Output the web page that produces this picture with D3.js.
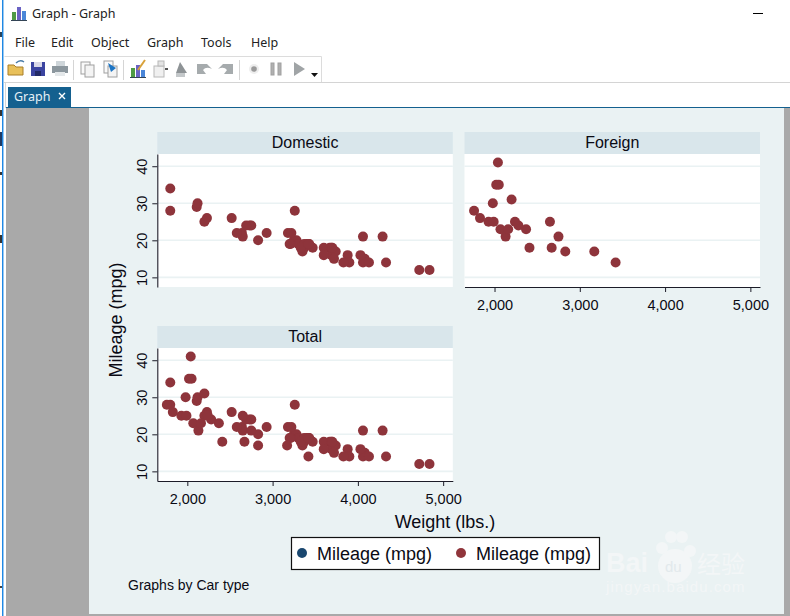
<!DOCTYPE html>
<html><head><meta charset="utf-8">
<script src="https://cdn.jsdelivr.net/npm/d3@7"></script>
<style>
html,body{margin:0;padding:0;background:#fff;overflow:hidden}
svg{display:block}
text{font-family:"Liberation Sans",Arial,sans-serif;fill:#0a0a14}
.ui{font-family:"Noto Sans",sans-serif;font-size:12.5px;fill:#222}
</style></head><body>
<svg id="c" width="790" height="616"></svg>
<script>
// ---- data ----
const domesticWeight=[2930,3350,2640,3250,4080,3670,2230,3280,3880,3400,4330,3900,4290,2110,3690,3180,3220,2750,3430,2120,3600,3600,3740,1800,2650,4840,4720,3830,2580,4060,3720,3370,4130,2830,4060,3310,3300,3690,3370,2730,4030,3260,1800,2200,2520,3330,3700,3470,3210,3200,3420,2690];
const domesticMpg=[22,17,22,20,15,18,26,20,16,19,14,14,21,29,16,22,22,24,19,30,18,16,17,28,21,12,12,14,22,14,15,18,14,20,21,19,19,18,19,24,16,28,34,25,26,18,18,18,19,19,19,24];
const foreignWeight=[2830,2070,2650,2370,2020,2280,2750,2130,2240,1760,1980,3420,1830,2050,2410,2200,2670,2160,2040,1930,1990,3170];
const foreignMpg=[17,23,25,23,35,24,21,21,25,28,30,14,26,35,18,31,18,23,41,25,25,17];
const panelTitles=["Domestic","Foreign","Total"];
const xTicks=[2000,3000,4000,5000];
const yTicks=[10,20,30,40];
const legendLabels=["Mileage (mpg)","Mileage (mpg)"];
const legendColors=["#1a476f","#90353b"];
const menuItems=["File","Edit","Object","Graph","Tools","Help"];

const svg=d3.select("#c");
const BG="#eaf2f3",HEAD="#d9e6eb",MAROON="#8e343b";
const rect=(g,x,y,w,h,f)=>g.append("rect").attr("x",x).attr("y",y).attr("width",w).attr("height",h).attr("fill",f);
const line=(g,x1,y1,x2,y2,s,w)=>g.append("line").attr("x1",x1).attr("y1",y1).attr("x2",x2).attr("y2",y2).attr("stroke",s).attr("stroke-width",w||1);

// ---- application window chrome ----
const ui=svg.append("g");
rect(ui,0,0,790,616,"#fff");
rect(ui,2,0,1,616,"#1e88e5");
rect(ui,3,0,1,616,"#9cc8ee");
rect(ui,0,32,2,5,"#27445c");rect(ui,0,110,2,6,"#333");rect(ui,0,132,2,14,"#1c3a66");rect(ui,0,172,2,3,"#333");rect(ui,0,235,2,8,"#333");rect(ui,0,586,2,2,"#444");
// title bar
[[12,12,"#4f9a45",4,8],[17,7,"#6a62c4",4,13],[22,11,"#4a86d8",4,9]].forEach(d=>rect(ui,d[0],d[1],d[3],d[4],d[2]));
rect(ui,11,20,16,1,"#345");
ui.append("text").attr("class","ui").attr("x",32).attr("y",18).text("Graph - Graph");
rect(ui,753,13,10,1,"#000");
// menu
const menuX=[15,51,91,147,201,251];
ui.selectAll(".m").data(menuItems).join("text").attr("class","ui m")
  .attr("x",(d,i)=>menuX[i]).attr("y",47).text(d=>d);
// toolbar
ui.append("path").attr("d","M4.5 56.5H321.5V82.5").attr("fill","none").attr("stroke","#dcdcdc");
line(ui,4,82.5,790,82.5,"#d4d4d4");
rect(ui,5,83,1,25,"#d8d8d8");
[73.5,123.5,239.5].forEach(x=>line(ui,x,60,x,80,"#d5d5d5"));
// folder
ui.append("path").attr("d","M8 75V65H14L16 67H23V75Z").attr("fill","#e8c05a").attr("stroke","#a97f28");
ui.append("path").attr("d","M16 63Q20 59 24 62").attr("fill","none").attr("stroke","#4a7ca8").attr("stroke-width",1.4);
// save
rect(ui,31,62,14,14,"#3b44a0");rect(ui,34,62,8,5,"#d8d8e8");rect(ui,35,71,6,5,"#222a66");
// print
rect(ui,56,61,9,5,"#cfd6da");rect(ui,52,66,16,7,"#8c979e");rect(ui,55,72,10,4,"#e4e8ea");
// copy docs
rect(ui,81,62,9,12,"#fafafa").attr("stroke","#a0a0a0");rect(ui,85,65,9,12,"#f4f4f4").attr("stroke","#a0a0a0");
rect(ui,104,61,9,12,"#fafafa").attr("stroke","#a0a0a0");rect(ui,108,66,9,11,"#f4f4f4").attr("stroke","#a0a0a0");
ui.append("path").attr("d","M108 63L116 68L111 72Z").attr("fill","#1d75c4");
// chart icon
[[131,68,"#4f9a45",4,9],[136,65,"#6a62c4",4,12],[141,70,"#4a86d8",4,7]].forEach(d=>rect(ui,d[0],d[1],d[3],d[4],d[2]));
ui.append("path").attr("d","M138 70L145 60").attr("stroke","#d9a23b").attr("stroke-width",2);
rect(ui,130,77,16,1,"#345");
// greyed icons
rect(ui,154,66,10,11,"#f0f0f0").attr("stroke","#b8b8b8");rect(ui,158,61,6,5,"#e4e4e4").attr("stroke","#b8b8b8");rect(ui,165,68,3,2,"#555");
ui.append("path").attr("d","M180 62L187 73H176Z").attr("fill","#8e9396");rect(ui,176,73,9,4,"#c4c8ca");
ui.append("path").attr("d","M197 64H207L212 69Q206 66 203 70L206 74H197Z").attr("fill","#a6abad");
ui.append("path").attr("d","M233 64H223L218 69Q224 66 227 70L224 74H233Z").attr("fill","#a6abad");
ui.append("circle").attr("cx",254).attr("cy",69).attr("r",5).attr("fill","#eee");
ui.append("circle").attr("cx",254).attr("cy",69).attr("r",2.8).attr("fill","#9a9a9a");
rect(ui,271,63,3,12,"#b0b0b0").attr("stroke","#a0a0a0");rect(ui,278,63,3,12,"#b0b0b0").attr("stroke","#a0a0a0");
ui.append("path").attr("d","M294 62L305 69L294 76Z").attr("fill","#a0a4a6");
ui.append("path").attr("d","M311 73H318L314.5 77Z").attr("fill","#111");
// tab
rect(ui,8,87,63,20,"#14608f");
rect(ui,6,107,784,1,"#14608f");
ui.append("text").attr("class","ui").attr("x",14).attr("y",101).style("fill","#e6f0f6").text("Graph");
ui.append("path").attr("d","M59 93L65 99M65 93L59 99").attr("stroke","#fff").attr("stroke-width",1.4);

// ---- graph region ----
rect(ui,6,108,784,508,"#a9a9a9");
rect(ui,89,108,695,506,BG);

// ---- panels ----
const panels=[
 {i:0,w:domesticWeight,m:domesticMpg,left:157.3,top:132,xAxis:false,yAxis:true},
 {i:1,w:foreignWeight,m:foreignMpg,left:464.5,top:132,xAxis:true,yAxis:false},
 {i:2,w:domesticWeight.concat(foreignWeight),m:domesticMpg.concat(foreignMpg),left:157.3,top:326,xAxis:true,yAxis:true}
];
const PW=295.5,HH=22,PH=133;
panels.forEach(p=>{
  const g=svg.append("g");
  const t=p.top+HH,b=t+PH;
  rect(g,p.left,p.top,PW,HH,HEAD);
  rect(g,p.left,t,PW,PH,"#fff");
  g.append("text").attr("x",p.left+PW/2).attr("y",p.top+15.5).attr("text-anchor","middle")
    .style("font-size","16px").text(panelTitles[p.i]);
  const x=d3.scaleLinear().domain([1648,5113]).range([p.left,p.left+PW]);
  const y=d3.scaleLinear().domain([7.4,43.3]).range([b,t]);
  g.selectAll(".grid").data(yTicks).join("line")
    .attr("x1",p.left).attr("x2",p.left+PW)
    .attr("y1",d=>y(d)).attr("y2",d=>y(d))
    .attr("stroke",BG).attr("stroke-width",1.6);
  if(p.yAxis){
    const ay=g.append("g").attr("transform",`translate(${p.left},0)`)
      .call(d3.axisLeft(y).tickValues(yTicks).tickSize(5).tickSizeOuter(0).tickFormat(d3.format("d")));
    ay.select(".domain").attr("stroke","#1c1c28").attr("stroke-width",1.1);
    ay.selectAll(".tick line").attr("stroke","#1c1c28");
    ay.selectAll(".tick text").attr("x",0).attr("y",0).attr("dy",0)
      .attr("transform","translate(-10,0) rotate(-90)")
      .attr("text-anchor","middle").style("font-size","14.5px").style("font-family",'"Liberation Sans",Arial,sans-serif').style("fill","#0a0a14");
  }
  if(p.xAxis){
    const ax=g.append("g").attr("transform",`translate(0,${b})`)
      .call(d3.axisBottom(x).tickValues(xTicks).tickSize(5).tickSizeOuter(0).tickFormat(d3.format(",")));
    ax.select(".domain").attr("stroke","#1c1c28").attr("stroke-width",1.1);
    ax.selectAll(".tick line").attr("stroke","#1c1c28");
    ax.selectAll(".tick text").attr("y",13).attr("dy","0.72em")
      .style("font-size","14.5px").style("font-family",'"Liberation Sans",Arial,sans-serif').style("fill","#0a0a14");
  }
  g.selectAll("circle").data(p.w.map((w,i)=>[w,p.m[i]])).join("circle")
    .attr("cx",d=>x(d[0])).attr("cy",d=>y(d[1])).attr("r",5).attr("fill",MAROON);
});

// ---- titles ----
svg.append("text").attr("transform","translate(122,320) rotate(-90)").attr("text-anchor","middle")
  .style("font-size","18px").text("Mileage (mpg)");
svg.append("text").attr("x",445).attr("y",528).attr("text-anchor","middle")
  .style("font-size","18px").text("Weight (lbs.)");

// ---- legend ----
const lg=svg.append("g");
rect(lg,291.5,537.5,308,32,"#fff").attr("stroke","#111").attr("stroke-width",1.2);
const legX=[302,461];
legendLabels.forEach((l,i)=>{
  lg.append("circle").attr("cx",legX[i]).attr("cy",553).attr("r",5).attr("fill",legendColors[i]);
  lg.append("text").attr("x",legX[i]+15).attr("y",560).style("font-size","18px").text(l);
});
svg.append("text").attr("x",128).attr("y",590).style("font-size","14px").text("Graphs by Car type");

// ---- watermark ----
const wm=svg.append("g");
const WM="#f3f6f7";
wm.append("text").attr("x",606).attr("y",572).style("font-size","27px").style("font-weight","700").style("fill",WM).text("Bai");
wm.append("circle").attr("cx",675).attr("cy",566).attr("r",17).attr("fill",WM);
wm.append("text").attr("x",665).attr("y",572).style("font-size","15px").style("fill","#e2e9ec").text("du");
[[662,548,6],[671,537,6],[682,537,6],[690,551,6]].forEach(d=>wm.append("circle").attr("cx",d[0]).attr("cy",d[1]).attr("r",d[2]).attr("fill",WM));
wm.append("text").attr("x",697).attr("y",573).style("font-size","24px").style("font-family",'"Noto Sans CJK SC"').style("fill",WM).text("经验");
wm.append("text").attr("x",606).attr("y",592).style("font-size","15px").style("letter-spacing","1.1px").style("fill",WM).text("jingyan.baidu.com");
</script>
</body></html>
